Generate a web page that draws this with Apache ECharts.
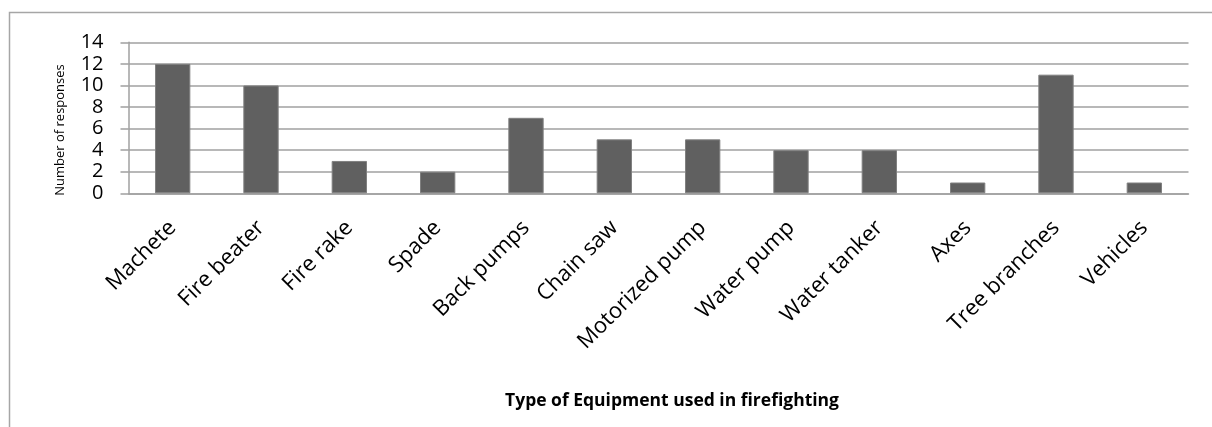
<!DOCTYPE html>
<html>
<head>
<meta charset="utf-8">
<script src="https://cdn.jsdelivr.net/npm/echarts@6/dist/echarts.min.js"></script>
<style>
  html, body { margin: 0; padding: 0; background: #ffffff; }
  #chart { width: 1212px; height: 427px; }
</style>
</head>
<body>
<div id="chart"></div>
<script>
// Equipment categories and number of responses for each
const categories = [
  'Machete', 'Fire beater', 'Fire rake', 'Spade', 'Back pumps', 'Chain saw',
  'Motorized pump', 'Water pump', 'Water tanker', 'Axes', 'Tree branches', 'Vehicles'
];
const responses = [12, 10, 3, 2, 7, 5, 5, 4, 4, 1, 11, 1];
const yAxisTitle = 'Number of responses';
const xAxisTitle = 'Type of Equipment used in firefighting';

const FONT = '"Open Sans", "Noto Sans", sans-serif';
const chart = echarts.init(document.getElementById('chart'), null, { renderer: 'canvas' });

chart.setOption({
  animation: false,
  backgroundColor: '#ffffff',
  grid: { left: 128.5, right: 23.5, top: 42.3, bottom: 233.7, containLabel: false },
  xAxis: {
    type: 'category',
    data: categories,
    axisLine: { show: true, lineStyle: { color: '#a0a0a0', width: 1.5 } },
    axisTick: { show: false },
    axisLabel: {
      rotate: 45,
      interval: 0,
      margin: 31,
      color: '#000000',
      fontFamily: FONT,
      fontSize: 22
    }
  },
  yAxis: {
    type: 'value',
    min: 0,
    max: 14,
    interval: 2,
    axisLine: { show: true, lineStyle: { color: '#a0a0a0', width: 1.5 } },
    axisTick: { show: true, inside: false, length: 8, lineStyle: { color: '#a0a0a0', width: 1.5 } },
    splitLine: { show: true, lineStyle: { color: '#a0a0a0', width: 1.5 } },
    axisLabel: {
      margin: 25,
      color: '#000000',
      fontFamily: FONT,
      fontSize: 20,
      lineHeight: 20,
      showMinLabel: true,
      showMaxLabel: true
    }
  },
  series: [{
    type: 'bar',
    data: responses,
    barWidth: '40%',
    itemStyle: { color: '#606060', borderColor: '#808080', borderWidth: 1 }
  }],
  graphic: [
    {
      type: 'rect',
      silent: true,
      shape: { x: 9.5, y: 12.5, width: 1400, height: 600 },
      style: { fill: 'none', stroke: '#a6a6a6', lineWidth: 1.5 },
      z: -1
    },
    {
      type: 'text',
      x: 60,
      y: 130,
      rotation: Math.PI / 2,
      style: {
        text: yAxisTitle,
        font: '13px ' + FONT,
        fill: '#000000',
        align: 'center',
        verticalAlign: 'middle'
      }
    },
    {
      type: 'text',
      x: 672,
      y: 401,
      style: {
        text: xAxisTitle,
        font: 'bold 17.5px ' + FONT,
        fill: '#000000',
        align: 'center',
        verticalAlign: 'middle'
      }
    }
  ]
});
</script>
</body>
</html>
